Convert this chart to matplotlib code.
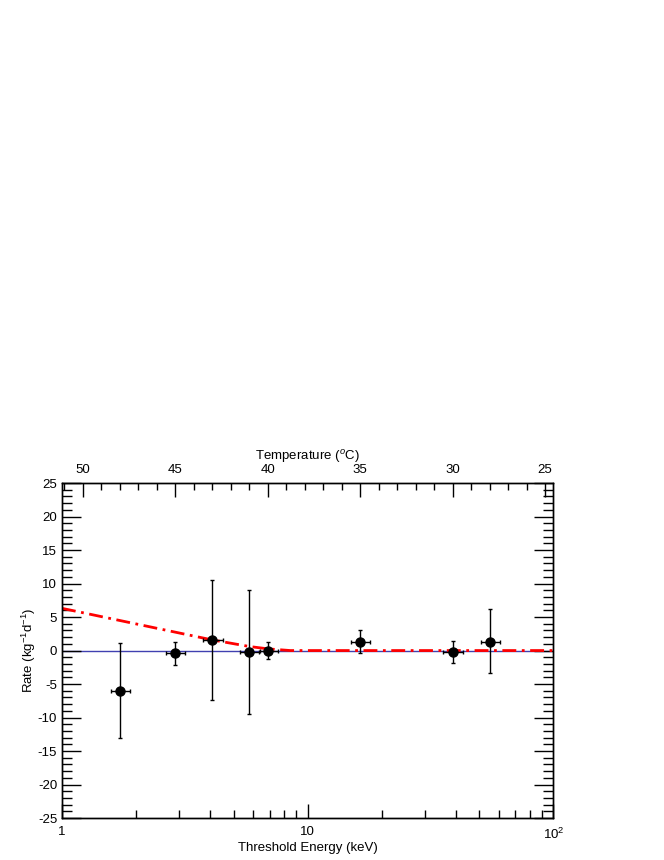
import matplotlib

matplotlib.use("Agg")
import matplotlib.pyplot as plt
from matplotlib.ticker import FixedLocator, MultipleLocator, NullFormatter, FixedFormatter

plt.rcParams["font.family"] = ["Liberation Sans", "DejaVu Sans"]
plt.rcParams["mathtext.fontset"] = "custom"
plt.rcParams["mathtext.rm"] = "Liberation Sans"
plt.rcParams["mathtext.it"] = "Liberation Sans:italic"
plt.rcParams["axes.unicode_minus"] = False

# measured rates vs threshold energy
energy = [1.72, 2.89, 4.07, 5.79, 6.88, 16.4, 38.9, 55.4]
energy_lo = [1.58, 2.65, 3.76, 5.31, 6.40, 15.0, 35.7, 50.8]
energy_hi = [1.89, 3.18, 4.51, 6.31, 7.54, 17.97, 42.7, 60.4]
rate = [-6.0, -0.4, 1.6, -0.25, 0.0, 1.35, -0.25, 1.25]
rate_hi = [1.1, 1.35, 10.6, 9.0, 1.25, 3.0, 1.45, 6.2]
rate_lo = [-13.1, -2.2, -7.4, -9.4, -1.3, -0.4, -1.9, -3.4]

# model curve (red dash-dot)
model_e = [1.0, 4.07, 5.8, 6.9, 8.5, 100.0]
model_r = [6.3, 1.6, 0.6, 0.25, 0.0, 0.0]

# top temperature axis
temp_ticks = [50, 45, 40, 35, 30, 25]
temp_lim = (51.12, 24.56)

fig = plt.figure(figsize=(6.64, 8.60), dpi=100)
ax = fig.add_axes([0.0934, 0.0488, 0.7399, 0.3895])

ax.axhline(0, color="#4040b0", lw=1.0, zorder=1)
ax.plot(model_e, model_r, color="red", lw=2.0, ls=(0, (5, 2, 1, 2)), zorder=2)

xerr = [[e - l for e, l in zip(energy, energy_lo)], [h - e for e, h in zip(energy, energy_hi)]]
yerr = [[r - l for r, l in zip(rate, rate_lo)], [h - r for r, h in zip(rate, rate_hi)]]
ax.errorbar(energy, rate, xerr=xerr, yerr=yerr, fmt="o", color="black",
            ms=6.5, elinewidth=1.0, capsize=1.6, capthick=1.0, zorder=3)

ax.set_xscale("log")
ax.set_xlim(1, 100)
ax.set_ylim(-25, 25)
ax.xaxis.set_major_locator(FixedLocator([1, 10, 100]))
ax.xaxis.set_major_formatter(FixedFormatter(["1", "10", "10$^2$"]))
ax.xaxis.set_minor_locator(FixedLocator([2, 3, 4, 5, 6, 7, 8, 9, 20, 30, 40, 50, 60, 70, 80, 90]))
ax.xaxis.set_minor_formatter(NullFormatter())
ax.yaxis.set_major_locator(MultipleLocator(5))
ax.yaxis.set_minor_locator(MultipleLocator(1))
ax.tick_params(axis="y", which="major", direction="in", length=14, width=1, right=True, labelsize=9.5)
ax.tick_params(axis="y", which="minor", direction="in", length=7, width=1, right=True)
ax.tick_params(axis="x", which="major", direction="in", length=10, width=1, top=False, labelsize=9.5, pad=6)
ax.tick_params(axis="x", which="minor", direction="in", length=6, width=1, top=False)
ax.set_xlabel("Threshold Energy (keV)", fontsize=9.5, labelpad=0)
ax.set_ylabel("Rate (kg$^{-1}$d$^{-1}$)", fontsize=9.5, labelpad=0)

ax2 = ax.twiny()
ax2.set_xlim(*temp_lim)
ax2.xaxis.set_major_locator(FixedLocator(temp_ticks))
ax2.xaxis.set_minor_locator(MultipleLocator(1))
ax2.tick_params(axis="x", which="major", direction="in", length=10, width=1, labelsize=9.5, pad=5)
ax2.tick_params(axis="x", which="minor", direction="in", length=5, width=1)
ax2.set_xlabel("Temperature ($^{o}$C)", fontsize=9.5, labelpad=3)

for a in (ax, ax2):
    for s in a.spines.values():
        s.set_linewidth(1.0)

fig.savefig("out.png", dpi=100)
